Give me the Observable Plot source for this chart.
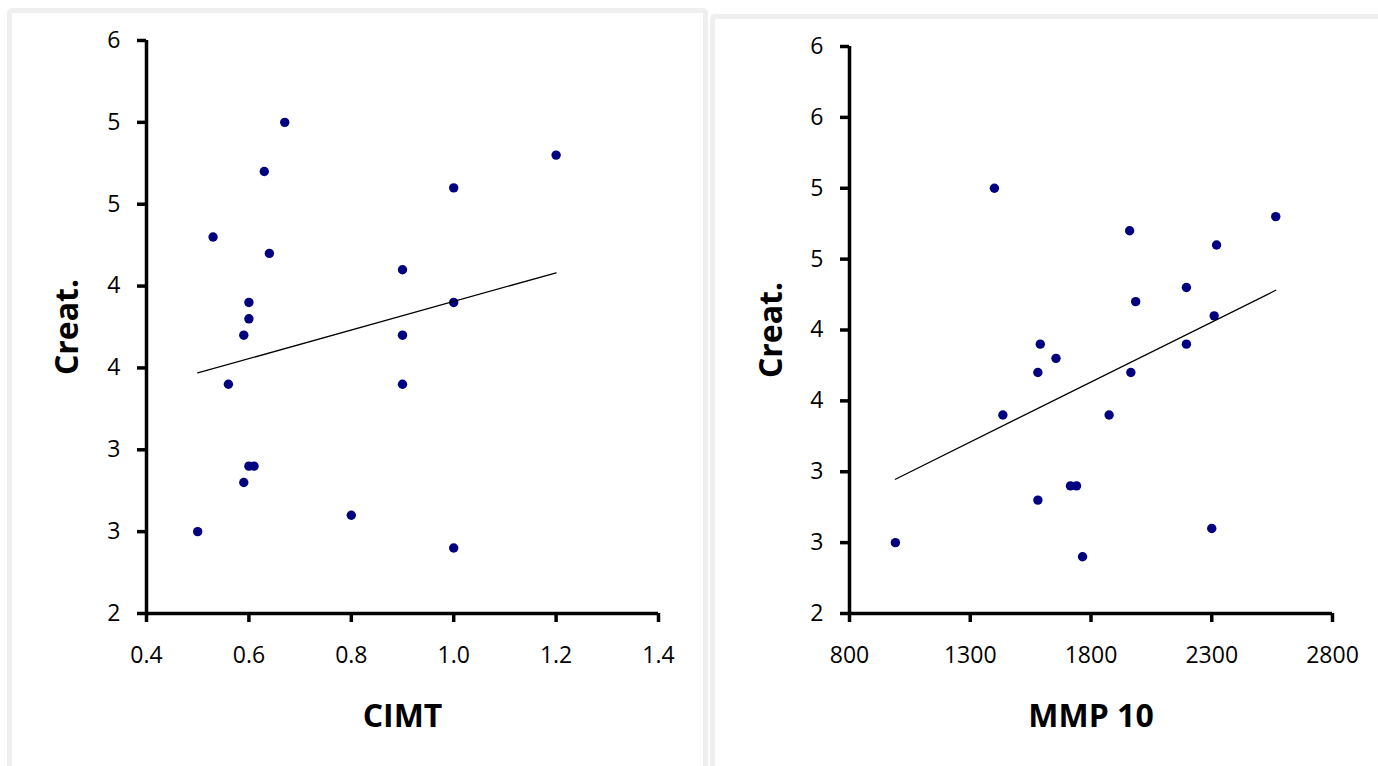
<!DOCTYPE html>
<html>
<head>
<meta charset="utf-8">
<script src="https://cdn.jsdelivr.net/npm/d3@7"></script>
<script src="https://cdn.jsdelivr.net/npm/@observablehq/plot@0.6"></script>
<style>
  html, body { margin: 0; padding: 0; background: #fff; width: 1378px; height: 766px; overflow: hidden; }
  body { position: relative; font-family: "Open Sans", sans-serif; }
  .panel { position: absolute; border: 5px solid #efefef; border-radius: 5px; box-sizing: border-box; }
  #panel-left { left: 7px; top: 8px; width: 701px; height: 820px; }
  #panel-right { left: 710px; top: 14px; width: 720px; height: 820px; }
  .chart { position: absolute; top: 0; }
</style>
</head>
<body>
<div class="panel" id="panel-left"></div>
<div class="panel" id="panel-right"></div>
<div class="chart" id="chart-left" style="left:0px"></div>
<div class="chart" id="chart-right" style="left:700px"></div>
<script>
// Creatinine for each subject, with the matching CIMT and MMP 10 readings
const creat = [5.0, 4.8, 4.7, 4.6, 4.3, 4.2, 4.1, 3.9, 3.9, 3.8, 3.7, 3.7, 3.4, 3.4, 2.9, 2.9, 2.8, 2.6, 2.5, 2.4];
const cimt  = [0.67, 1.2, 0.63, 1.0, 0.53, 0.64, 0.9, 0.6, 1.0, 0.6, 0.59, 0.9, 0.56, 0.9, 0.6, 0.61, 0.59, 0.8, 0.5, 1.0];
const mmp10 = [1400, 2565, 1960, 2320, 2195, 1985, 2310, 1590, 2195, 1655, 1580, 1965, 1435, 1875, 1715, 1740, 1580, 2300, 990, 1765];

// Axis ticks and their labels (whole-number labels on half-unit steps)
const cimtTicks = [0.4, 0.6, 0.8, 1.0, 1.2, 1.4];
const cimtTickLabels = ["0.4", "0.6", "0.8", "1.0", "1.2", "1.4"];
const mmpTicks = [800, 1300, 1800, 2300, 2800];
const mmpTickLabels = ["800", "1300", "1800", "2300", "2800"];
const creatTicksLeft = [2, 2.5, 3, 3.5, 4, 4.5, 5, 5.5];
const creatTickLabelsLeft = ["2", "3", "3", "4", "4", "5", "5", "6"];
const creatTicksRight = [2, 2.5, 3, 3.5, 4, 4.5, 5, 5.5, 6];
const creatTickLabelsRight = ["2", "3", "3", "4", "4", "5", "5", "6", "6"];

const FONT = "Open Sans";
const NAVY = "#000080";

function scatter({xs, xTitle, xDomain, xTicks, xTickLabels, yDomain, yTicks, yTickLabels,
                  width, marginLeft, marginTop, marginRight, titleDx}) {
  const data = creat.map((c, i) => ({x: xs[i], y: c}));
  return Plot.plot({
    width,
    height: 766,
    marginLeft,
    marginTop,
    marginRight,
    marginBottom: 153,
    style: {fontFamily: FONT, color: "black", background: "transparent", overflow: "visible"},
    x: {domain: xDomain},
    y: {domain: yDomain},
    marks: [
      Plot.axisX({
        ticks: xTicks,
        tickFormat: d => xTickLabels[xTicks.indexOf(d)],
        tickSize: 9, tickPadding: 24, strokeWidth: 3.5, fontSize: 23, label: null
      }),
      Plot.axisY({
        ticks: yTicks,
        tickFormat: d => yTickLabels[yTicks.indexOf(d)],
        tickSize: 9, tickPadding: 17, strokeWidth: 3.5, fontSize: 23, label: null
      }),
      Plot.ruleY([yDomain[0]], {stroke: "black", strokeWidth: 3.5}),
      Plot.ruleX([xDomain[0]], {stroke: "black", strokeWidth: 3.5}),
      Plot.dot(data, {x: "x", y: "y", r: 4.7, fill: NAVY, stroke: null}),
      Plot.linearRegressionY(data, {x: "x", y: "y", ci: 0, stroke: "black", strokeWidth: 1.3}),
      Plot.text([xTitle], {
        text: d => d, frameAnchor: "bottom", textAnchor: "middle", lineAnchor: "middle",
        dy: 103, fontSize: 32, fontWeight: "bold"
      }),
      Plot.text(["Creat."], {
        text: d => d, frameAnchor: "left", textAnchor: "middle", lineAnchor: "middle",
        rotate: -90, dx: titleDx, fontSize: 32, fontWeight: "bold"
      })
    ]
  });
}

document.getElementById("chart-left").append(scatter({
  xs: cimt, xTitle: "CIMT",
  xDomain: [0.4, 1.4], xTicks: cimtTicks, xTickLabels: cimtTickLabels,
  yDomain: [2, 5.5], yTicks: creatTicksLeft, yTickLabels: creatTickLabelsLeft,
  width: 700, marginLeft: 146, marginTop: 40, marginRight: 42, titleDx: -79
}));

document.getElementById("chart-right").append(scatter({
  xs: mmp10, xTitle: "MMP 10",
  xDomain: [800, 2800], xTicks: mmpTicks, xTickLabels: mmpTickLabels,
  yDomain: [2, 6], yTicks: creatTicksRight, yTickLabels: creatTickLabelsRight,
  width: 678, marginLeft: 149, marginTop: 46, marginRight: 46, titleDx: -78
}));
</script>
</body>
</html>
